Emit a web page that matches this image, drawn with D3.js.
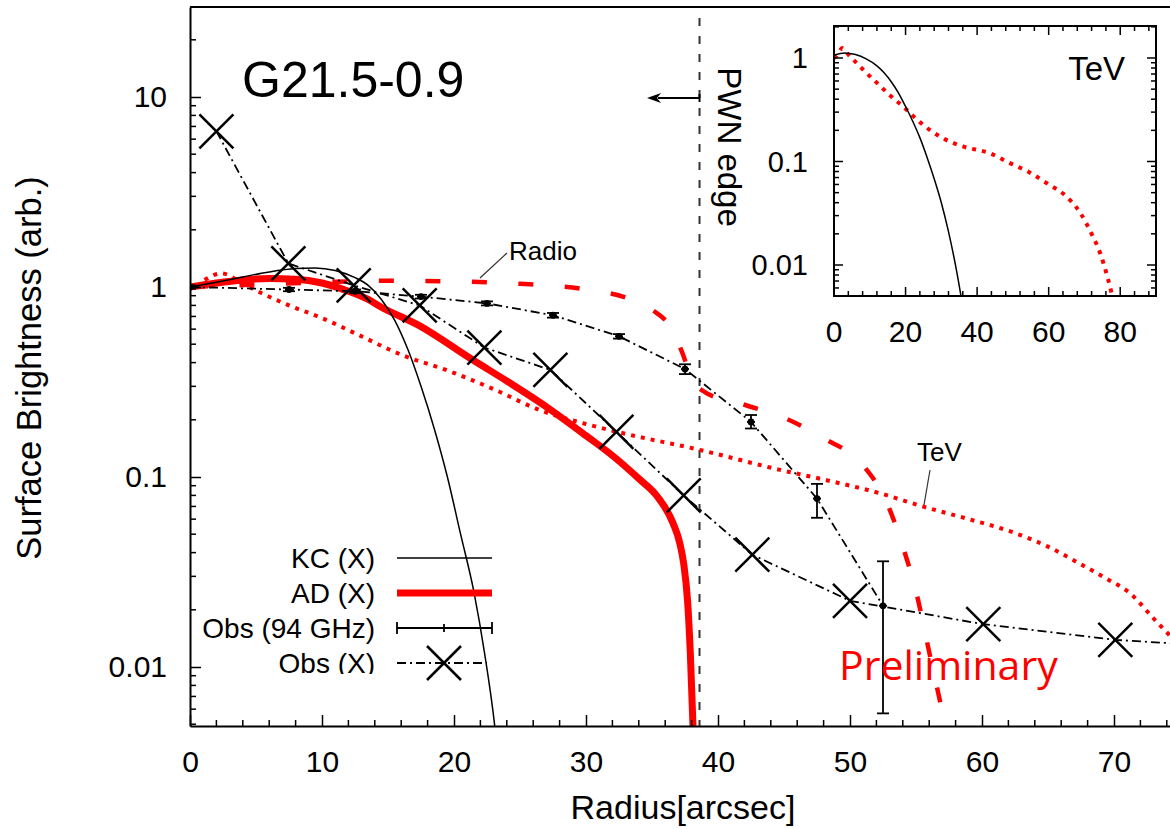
<!DOCTYPE html>
<html><head><meta charset="utf-8">
<script src="https://cdn.jsdelivr.net/npm/d3@7"></script>
<style>
body{margin:0;background:#fff}
svg text{font-family:"Liberation Sans",Arial,Helvetica,sans-serif;fill:#000}
</style>
</head><body>
<svg id="c" width="1170" height="829"></svg>
<script>
// ---------- data ----------
const xTickVals = [0,10,20,30,40,50,60,70];
const yTickVals = [0.01,0.1,1,10];
const yTickLabels = ["0.01","0.1","1","10"];
const insetXTicks = [0,20,40,60,80];
const insetYTicks = [0.01,0.1,1];
const insetYTickLabels = ["0.01","0.1","1"];

// KC (X) model, thin black
const kcR = [0,2,4,6,8,9.5,11,12.5,13.5,14.5,15.5,16.5,17.5,18.5,19.5,20.5,21.5,22.3,23.1,23.4];
const kcV = [1.0,1.06,1.13,1.2,1.25,1.26,1.22,1.12,1.02,0.86,0.67,0.47,0.3,0.18,0.1,0.05,0.025,0.012,0.0048,0.003];

// AD (X) model, thick red
const adR = [0,2,4,6,8,10,12,13.5,14.4,17.3,21.5,24,27,30,32.1,34,35.4,36.6,37.1,37.4,37.7,37.9,38.1,38.2];
const adV = [1.0,1.05,1.09,1.11,1.1,1.05,0.95,0.86,0.79,0.63,0.41,0.32,0.234,0.165,0.128,0.098,0.079,0.057,0.045,0.035,0.022,0.012,0.005,0.003];

// Radio model, red dashed
const radR = [0,5,10,15,20,25,30,33,35,36.5,37.3,38,39,42,45,48,51,52.8,54,55,56,57.2,57.5];
const radV = [1.0,1.03,1.06,1.08,1.07,1.04,0.97,0.88,0.76,0.6,0.45,0.33,0.28,0.24,0.205,0.16,0.115,0.073,0.043,0.025,0.012,0.005,0.004];

// TeV model, red dotted
const tevR = [1.1,2.4,4,5.4,7.5,9.7,13,16,19.4,23,26.5,30,32.8,38.6,44.7,48,52.3,55.5,59,62.4,65,67.4,69.5,71.2,73,74.5];
const tevV = [1.09,1.18,1.04,0.93,0.8,0.7,0.55,0.44,0.366,0.29,0.225,0.19,0.17,0.139,0.109,0.097,0.082,0.07,0.06,0.051,0.043,0.035,0.029,0.0245,0.018,0.014];

// Obs (94 GHz), with error bars
const obsRadR  = [0,7.5,12.5,17.5,22.5,27.5,32.5,37.5,42.5,47.5,52.5];
const obsRadV  = [1.0,0.97,0.95,0.89,0.82,0.71,0.55,0.37,0.195,0.077,0.021];
const obsRadLo = [0.98,0.95,0.93,0.87,0.80,0.69,0.535,0.348,0.180,0.061,0.0057];
const obsRadHi = [1.02,0.99,0.97,0.91,0.84,0.73,0.565,0.392,0.212,0.092,0.036];

// Obs (X)
const obsXR = [2.0,7.45,12.4,17.4,22.3,27.3,32.3,37.4,42.6,50.0,60.1,70.1,80];
const obsXV = [6.6,1.33,1.02,0.80,0.48,0.366,0.173,0.080,0.039,0.0223,0.0168,0.0139,0.0126];

// Inset (TeV) curves
const inKcR = [0,3,6,9,12,14,16,18,20,22,24,26,28,30,32,34,35.5,36.5];
const inKcV = [1.07,1.12,1.08,0.98,0.84,0.72,0.59,0.46,0.34,0.245,0.17,0.11,0.068,0.04,0.021,0.0098,0.005,0.003];
const inTevR = [0,1.2,2.3,4,6.4,9,12,15.5,19.3,24,29.6,36,43.6,49,54.8,60,64,68.8,72,74.4,76.5,77.8,78.5];
const inTevV = [1.0,1.1,1.25,1.08,0.89,0.72,0.575,0.44,0.34,0.24,0.174,0.14,0.12,0.097,0.078,0.06,0.049,0.032,0.02,0.013,0.0075,0.005,0.004];

// ---------- drawing ----------
const svg = d3.select("#c");
const RED = "#ff0000";
const zip = (a,b) => a.map((d,i)=>[d,b[i]]);

// main scales
const X0=190, X1=1170, Y0=7, Y1=726;
const x = d3.scaleLinear().domain([0, (X1-X0)/13.2]).range([X0, X1]);
const y = d3.scaleLog().domain([Math.pow(10,-(Y1-287)/190), Math.pow(10,(287-Y0)/190)]).range([Y1, Y0]);

svg.append("defs").append("clipPath").attr("id","mainClip")
  .append("rect").attr("x",X0).attr("y",Y0).attr("width",X1-X0).attr("height",Y1-Y0);

const plot = svg.append("g").attr("clip-path","url(#mainClip)");

const lineS = d3.line().x(d=>x(d[0])).y(d=>y(d[1])).curve(d3.curveMonotoneX);
const lineL = d3.line().x(d=>x(d[0])).y(d=>y(d[1]));

// PWN edge dashed vertical
plot.append("line").attr("x1",x(38.6)).attr("x2",x(38.6)).attr("y1",18).attr("y2",Y1)
  .attr("stroke","#333").attr("stroke-width",2).attr("stroke-dasharray","8,10");

// TeV dotted
plot.append("path").attr("d",lineS(zip(tevR,tevV))).attr("fill","none")
  .attr("stroke",RED).attr("stroke-width",4).attr("stroke-dasharray","4,6");
// Radio dashed
plot.append("path").attr("d",lineS(zip(radR,radV))).attr("fill","none")
  .attr("stroke",RED).attr("stroke-width",4.5).attr("stroke-dasharray","15,31.5").attr("stroke-dashoffset",-3);
// AD thick red
plot.append("path").attr("d",lineS(zip(adR,adV))).attr("fill","none")
  .attr("stroke",RED).attr("stroke-width",7);
// KC thin
plot.append("path").attr("d",lineS(zip(kcR,kcV))).attr("fill","none")
  .attr("stroke","#000").attr("stroke-width",1.5);

// Obs 94 GHz
plot.append("path").attr("d",lineL(zip(obsRadR,obsRadV))).attr("fill","none")
  .attr("stroke","#000").attr("stroke-width",1.8).attr("stroke-dasharray","9,4,2,4");
const eb = plot.append("g").attr("stroke","#000").attr("stroke-width",1.8);
obsRadR.forEach((r,i)=>{
  const cx=x(r);
  eb.append("line").attr("x1",cx).attr("x2",cx).attr("y1",y(obsRadLo[i])).attr("y2",y(obsRadHi[i]));
  [obsRadLo[i],obsRadHi[i]].forEach(v=>eb.append("line").attr("x1",cx-6).attr("x2",cx+6).attr("y1",y(v)).attr("y2",y(v)));
  eb.append("line").attr("x1",cx-4).attr("x2",cx+4).attr("y1",y(obsRadV[i])).attr("y2",y(obsRadV[i]));
  eb.append("circle").attr("cx",cx).attr("cy",y(obsRadV[i])).attr("r",2.5).attr("fill","#000");
});

// Obs X
plot.append("path").attr("d",lineL(zip(obsXR,obsXV))).attr("fill","none")
  .attr("stroke","#000").attr("stroke-width",1.8).attr("stroke-dasharray","9,4,2,4");
const xm = plot.append("g").attr("stroke","#000").attr("stroke-width",2.5);
function cross(g,cx,cy,s){
  g.append("line").attr("x1",cx-s).attr("y1",cy-s).attr("x2",cx+s).attr("y2",cy+s);
  g.append("line").attr("x1",cx-s).attr("y1",cy+s).attr("x2",cx+s).attr("y2",cy-s);
}
obsXR.forEach((r,i)=>cross(xm,x(r),y(obsXV[i]),17));

// axes frame
svg.append("line").attr("x1",X0).attr("x2",X1).attr("y1",Y0).attr("y2",Y0).attr("stroke","#000").attr("stroke-width",2);

const xAxis = d3.axisBottom(x).tickValues(xTickVals).tickSizeInner(-11).tickSizeOuter(0).tickPadding(24).tickFormat(d3.format("d"));
const gx = svg.append("g").attr("transform",`translate(0,${Y1})`).call(xAxis);
gx.selectAll("text").style("font-size","30px").attr("dy","0.32em").attr("y",36);
// minor x ticks
const minorX = d3.range(0,75,2).filter(v=>v%10!==0);
gx.selectAll(".mt").data(minorX).enter().append("line").attr("x1",d=>x(d)).attr("x2",d=>x(d)).attr("y1",0).attr("y2",-6).attr("stroke","#000").attr("stroke-width",1.5);

const yAxis = d3.axisLeft(y).tickValues(yTickVals).tickSizeInner(-11).tickSizeOuter(0).tickFormat((d,i)=>yTickLabels[i]);
const gy = svg.append("g").attr("transform",`translate(${X0},0)`).call(yAxis);
gy.selectAll("text").style("font-size","30px").attr("x",-23);
const minorY = [];
[0.001,0.01,0.1,1,10].forEach(dec=>{for(let k=2;k<=9;k++){const v=dec*k; if(v>y.domain()[0]&&v<y.domain()[1]) minorY.push(v);}});
gy.selectAll(".mt").data(minorY).enter().append("line").attr("x1",0).attr("x2",6).attr("y1",d=>y(d)).attr("y2",d=>y(d)).attr("stroke","#000").attr("stroke-width",1.5);
[gx,gy].forEach(g=>{g.select(".domain").attr("stroke-width",2);g.selectAll(".tick line").attr("stroke-width",1.5);});

// axis labels
svg.append("text").attr("x",683).attr("y",819).attr("text-anchor","middle").style("font-size","34px").text("Radius[arcsec]");
svg.append("text").attr("transform","translate(41,368) rotate(-90)").attr("text-anchor","middle").style("font-size","34.5px").text("Surface Brightness (arb.)");

// title
svg.append("text").attr("x",242).attr("y",97).style("font-size","50px").text("G21.5-0.9");

// PWN edge label + arrow
svg.append("text").attr("transform","translate(729,147) rotate(90)").attr("text-anchor","middle").attr("dominant-baseline","central").style("font-size","33px").text("PWN edge");
svg.append("line").attr("x1",x(38.6)).attr("x2",658).attr("y1",98).attr("y2",98).attr("stroke","#000").attr("stroke-width",2);
svg.append("line").attr("x1",x(38.6)).attr("x2",x(38.6)).attr("y1",94).attr("y2",102).attr("stroke","#000").attr("stroke-width",2);
svg.append("path").attr("d","M647,98 L661,93 L657,98 L661,103 Z").attr("fill","#000");

// Radio label
svg.append("line").attr("x1",480).attr("y1",278).attr("x2",507).attr("y2",253).attr("stroke","#333").attr("stroke-width",1.2);
svg.append("text").attr("x",509).attr("y",260).style("font-size","26px").text("Radio");
// TeV label
svg.append("line").attr("x1",930).attr("y1",470).attr("x2",924).attr("y2",505).attr("stroke","#333").attr("stroke-width",1.2);
svg.append("text").attr("x",917).attr("y",461).style("font-size","26px").text("TeV");

// legend
const LG = [558,593,628,663];
const legTxt = ["KC (X)","AD (X)","Obs (94 GHz)","Obs (X)"];
legTxt.forEach((t,i)=>svg.append("text").attr("x",375).attr("y",LG[i]).attr("text-anchor","end").attr("dominant-baseline","central").style("font-size","28px").text(t));
svg.append("rect").attr("x",280).attr("y",674).attr("width",114).attr("height",30).attr("fill","#fff");
svg.append("line").attr("x1",397).attr("x2",492).attr("y1",LG[0]).attr("y2",LG[0]).attr("stroke","#000").attr("stroke-width",1.5);
svg.append("line").attr("x1",397).attr("x2",492).attr("y1",LG[1]).attr("y2",LG[1]).attr("stroke",RED).attr("stroke-width",7);
const lg2 = svg.append("g").attr("stroke","#000").attr("stroke-width",1.8);
lg2.append("line").attr("x1",397).attr("x2",492).attr("y1",LG[2]).attr("y2",LG[2]);
[397,492].forEach(cx=>lg2.append("line").attr("x1",cx).attr("x2",cx).attr("y1",LG[2]-6).attr("y2",LG[2]+6));
lg2.append("line").attr("x1",444).attr("x2",444).attr("y1",LG[2]-4).attr("y2",LG[2]+4);
svg.append("line").attr("x1",397).attr("x2",487).attr("y1",LG[3]).attr("y2",LG[3]).attr("stroke","#000").attr("stroke-width",1.8).attr("stroke-dasharray","9,4,2,4");
cross(svg.append("g").attr("stroke","#000").attr("stroke-width",2.5),444,LG[3],17);

// Preliminary
svg.append("text").attr("x",839).attr("y",680).style("font-family","'Open Sans','Noto Sans',sans-serif").style("font-size","41px").style("fill",RED).text("Preliminary");

// ---------- inset ----------
const IX0=834, IX1=1156, IY0=26, IY1=296;
const ix = d3.scaleLinear().domain([0,90]).range([IX0,IX1]);
const iy = d3.scaleLog().domain([Math.pow(10,-(IY1-58)/103.5), Math.pow(10,(58-IY0)/103.5)]).range([IY1,IY0]);
svg.append("rect").attr("x",IX0).attr("y",IY0).attr("width",IX1-IX0).attr("height",IY1-IY0).attr("fill","#fff");
svg.select("defs").append("clipPath").attr("id","inClip").append("rect").attr("x",IX0).attr("y",IY0).attr("width",IX1-IX0).attr("height",IY1-IY0);
const ip = svg.append("g").attr("clip-path","url(#inClip)");
const iLine = d3.line().x(d=>ix(d[0])).y(d=>iy(d[1])).curve(d3.curveMonotoneX);
ip.append("path").attr("d",iLine(zip(inTevR,inTevV))).attr("fill","none").attr("stroke",RED).attr("stroke-width",4).attr("stroke-dasharray","4,6");
ip.append("path").attr("d",iLine(zip(inKcR,inKcV))).attr("fill","none").attr("stroke","#000").attr("stroke-width",1.5);

const it = svg.append("g").attr("stroke","#000").attr("stroke-width",1.5);
d3.range(0,90,4).forEach(v=>{
  const L = (v%20===0)?9:5;
  it.append("line").attr("x1",ix(v)).attr("x2",ix(v)).attr("y1",IY1).attr("y2",IY1-L);
  it.append("line").attr("x1",ix(v)).attr("x2",ix(v)).attr("y1",IY0).attr("y2",IY0+L);
});
const iMinorY=[];
[0.001,0.01,0.1,1].forEach(dec=>{for(let k=2;k<=9;k++){const v=dec*k; if(v>iy.domain()[0]&&v<iy.domain()[1]) iMinorY.push(v);}});
insetYTicks.forEach(v=>{
  it.append("line").attr("x1",IX0).attr("x2",IX0+9).attr("y1",iy(v)).attr("y2",iy(v));
  it.append("line").attr("x1",IX1).attr("x2",IX1-9).attr("y1",iy(v)).attr("y2",iy(v));
});
iMinorY.forEach(v=>{
  it.append("line").attr("x1",IX0).attr("x2",IX0+5).attr("y1",iy(v)).attr("y2",iy(v));
  it.append("line").attr("x1",IX1).attr("x2",IX1-5).attr("y1",iy(v)).attr("y2",iy(v));
});
svg.append("rect").attr("x",IX0).attr("y",IY0).attr("width",IX1-IX0).attr("height",IY1-IY0).attr("fill","none").attr("stroke","#000").attr("stroke-width",2);
insetXTicks.forEach(v=>svg.append("text").attr("x",ix(v)).attr("y",331).attr("text-anchor","middle").attr("dominant-baseline","central").style("font-size","30px").text(v));
insetYTicks.forEach((v,i)=>svg.append("text").attr("x",808).attr("y",iy(v)).attr("text-anchor","end").attr("dominant-baseline","central").style("font-size","29px").text(insetYTickLabels[i]));
svg.append("text").attr("x",1125).attr("y",68).attr("text-anchor","end").attr("dominant-baseline","central").style("font-size","33px").text("TeV");
</script>
</body></html>
